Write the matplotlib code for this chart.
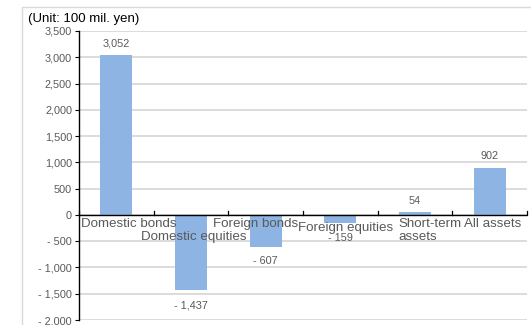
import matplotlib.pyplot as plt
from matplotlib.patches import Rectangle
from matplotlib.ticker import FuncFormatter

plt.rcParams['font.family'] = ['Liberation Sans', 'DejaVu Sans']

# Change in asset value by class (100 mil. yen)
categories = ["Domestic bonds", "Domestic equities", "Foreign bonds",
              "Foreign equities", "Short-term\nassets", "All assets"]
values = [3052, -1437, -607, -159, 54, 902]
yticks = list(range(-2000, 3501, 500))

# staggered label placement (x shift in category units, top y in data units, alignment)
label_dx = [0.16, 0.04, -0.13, 0.07, -0.22, 0.04]
label_top = [-60, -310, -60, -140, -60, -60]
label_ha = ["center", "center", "center", "center", "left", "center"]

gray = "#595959"


def fmt(v, pos=None):
    s = f"{abs(v):,.0f}"
    return "- " + s if v < 0 else s


fig = plt.figure(figsize=(5.31, 3.25), dpi=100)
fig.patches.append(Rectangle((22 / 531, -0.1), 1.0, 1 - 7 / 325 + 0.1,
                             transform=fig.transFigure, fill=False,
                             edgecolor="#d9d9d9", linewidth=1.0))
ax = fig.add_axes([79 / 531, 1 - 320 / 325, (527 - 79) / 531, (320 - 31) / 325])

x = list(range(len(categories)))
ax.bar(x, values, width=0.43, color="#8db4e2", zorder=3)

ax.set_xlim(-0.5, len(categories) - 0.5)
ax.set_ylim(-2000, 3500)
ax.set_yticks(yticks)
ax.yaxis.set_major_formatter(FuncFormatter(fmt))
ax.tick_params(axis="y", labelsize=7.8, labelcolor=gray, color="black",
               length=3, width=0.8, pad=2)
ax.grid(axis="y", color="#d9d9d9", linewidth=1.3, zorder=0)
ax.set_xticks([])

for side in ["top", "right", "bottom"]:
    ax.spines[side].set_visible(False)
ax.spines["left"].set_linewidth(1.0)

# zero line with upward category dividers
ax.axhline(0, color="black", linewidth=1.0, zorder=4)
for b in range(len(categories) + 1):
    ax.plot([b - 0.5, b - 0.5], [0, 80], color="black", linewidth=0.9, zorder=4,
            clip_on=False)

for i, (name, v) in enumerate(zip(categories, values)):
    ax.text(i + label_dx[i], label_top[i], name, ha=label_ha[i], va="top",
            fontsize=9.6, color=gray, zorder=5, linespacing=1.15)
    off = 8 if v >= 0 else -10.5
    ax.annotate(fmt(v), (i, v), xytext=(0, off), textcoords="offset points",
                ha="center", va="center", fontsize=7.8, color=gray, zorder=5)

fig.text(28 / 531, 1 - 19 / 325, "(Unit: 100 mil. yen)", fontsize=9.5,
         color="black", va="center", ha="left")

fig.savefig("out.png", dpi=100)
